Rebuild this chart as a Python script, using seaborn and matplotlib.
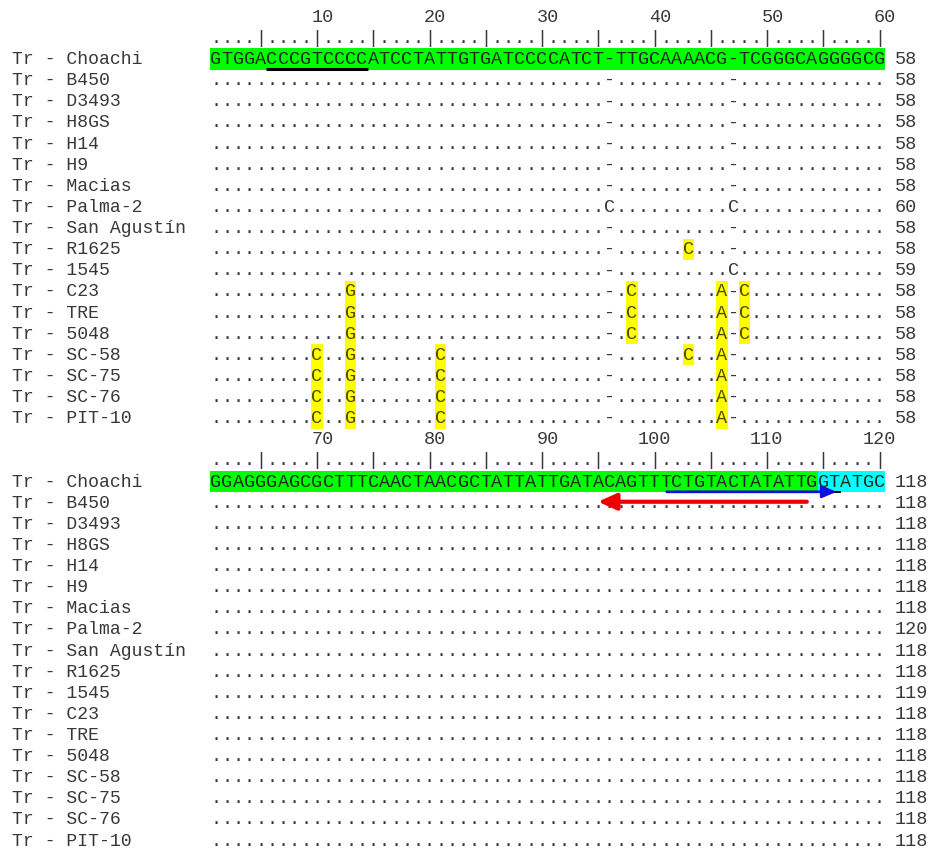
import numpy as np
import seaborn as sns
import matplotlib
matplotlib.use("Agg")
import matplotlib.pyplot as plt
from matplotlib.colors import ListedColormap

# ---- alignment data -------------------------------------------------------
strains = ["Choachi", "B450", "D3493", "H8GS", "H14", "H9", "Macias", "Palma-2",
           "San Agustín", "R1625", "1545", "C23", "TRE", "5048", "SC-58",
           "SC-75", "SC-76", "PIT-10"]

reference_block1 = "GTGGACCCGTCCCCATCCTATTGTGATCCCCATCT-TTGCAAAACG-TCGGGCAGGGGCG"
reference_block2 = "GGAGGGAGCGCTTTCAACTAACGCTATTATTGATACAGTTTCTGTACTATATTGGTATGC"
block_starts = [1, 61]

# characters that differ from the reference (position -> shown character)
gaps = {36: "-", 47: "-"}
cluster_c23 = {13: "G", 36: "-", 38: "C", 46: "A", 47: "-", 48: "C"}
cluster_sc = {10: "C", 13: "G", 21: "C", 36: "-", 46: "A", 47: "-"}
diffs_block1 = {
    "B450": gaps, "D3493": gaps, "H8GS": gaps, "H14": gaps, "H9": gaps,
    "Macias": gaps,
    "Palma-2": {36: "C", 47: "C"},
    "San Agustín": gaps,
    "R1625": {36: "-", 43: "C", 47: "-"},
    "1545": {36: "-", 47: "C"},
    "C23": cluster_c23, "TRE": cluster_c23, "5048": cluster_c23,
    "SC-58": {10: "C", 13: "G", 21: "C", 36: "-", 43: "C", 46: "A", 47: "-"},
    "SC-75": cluster_sc, "SC-76": cluster_sc, "PIT-10": cluster_sc,
}
diffs_block2 = {}

lengths_block1 = [58, 58, 58, 58, 58, 58, 58, 60, 58, 58, 59, 58, 58, 58, 58, 58, 58, 58]
lengths_block2 = [118, 118, 118, 118, 118, 118, 118, 120, 118, 118, 119, 118, 118, 118, 118, 118, 118, 118]

# features
underline_span = (6, 14)          # underlined motif in the reference
primer_region = (115, 120)        # cyan shading
forward_arrow = (101.1, 116.2)    # blue arrow (start, tip), alignment positions
forward_tail_end = 116.5
reverse_arrow = (113.55, 95.0)    # red arrow (start, tip)

GREEN, CYAN, YELLOW = "#00ff00", "#00ffff", "#ffff00"
FONT = "Liberation Mono"
FS = 13.3
LABEL_FS = 13.1
TXT = "#383838"
SEQ_TXT = "#1e2a1e"
HL_TXT = "#4a4a00"

# ---- build rows -----------------------------------------------------------
refs = [reference_block1, reference_block2]
diffs = [diffs_block1, diffs_block2]
lengths = [lengths_block1, lengths_block2]
lines_per_block = 2 + len(strains)
n_lines = lines_per_block * 2
bg = np.full((n_lines, 60), np.nan)

rows = []  # (line, block, strain index, characters, highlighted columns)
for b, ref in enumerate(refs):
    top = b * lines_per_block
    start = block_starts[b]
    for i, s in enumerate(strains):
        line = top + 2 + i
        if i == 0:
            chars = list(ref)
            for c in range(60):
                pos = start + c
                bg[line, c] = 1 if primer_region[0] <= pos <= primer_region[1] else 0
            rows.append((line, b, i, chars, set()))
            continue
        chars = ["."] * 60
        hl = set()
        for pos, ch in diffs[b].get(s, {}).items():
            c = pos - start
            chars[c] = ch
            if ch != "-" and ref[c] != "-":
                hl.add(c)
                bg[line, c] = 2
        rows.append((line, b, i, chars, hl))

# ---- figure ---------------------------------------------------------------
fig = plt.figure(figsize=(9.3, 8.57), dpi=100)
ax = fig.add_axes([0, 0, 1, 1])
sns.heatmap(bg, ax=ax, cmap=ListedColormap([GREEN, CYAN, YELLOW]),
            vmin=-0.5, vmax=2.5, cbar=False, xticklabels=False,
            yticklabels=False, linewidths=0)
ax.set_xlim(-18.667, 64.0)
ax.set_ylim(40.28, -0.295)
ax.set_axis_off()

BASE = 0.74  # baseline offset within a line


def put(x, line, s, color=TXT, ha="center", size=FS):
    ax.text(x, line + BASE, s, fontsize=size, family=FONT, color=color,
            ha=ha, va="baseline")


for b in range(2):
    top = b * lines_per_block
    start = block_starts[b]
    # ruler numbers
    for col in range(10, 61, 10):
        label = str(start - 1 + col)
        left = (col - 1) - (len(label) - 1) // 2
        put(left + len(label) / 2, top, label)
    # ruler ticks
    for col in range(1, 61):
        put(col - 0.5, top + 1, "|" if col % 5 == 0 else ".")

for line, b, i, chars, hl in rows:
    put(-17.6, line, "Tr - " + strains[i], ha="left", size=LABEL_FS)
    for c, ch in enumerate(chars):
        if c in hl:
            col = HL_TXT
        elif i == 0:
            col = SEQ_TXT
        else:
            col = TXT
        put(c + 0.5, line, ch, color=col)
    put(60.85, line, str(lengths[b][i]), ha="left")

# underline of the motif in block 1
u0, u1 = underline_span
ax.plot([u0 - 1, u1], [2.97, 2.97], color="black", lw=2.2, solid_capstyle="butt")


def to_x(pos):
    return pos - block_starts[1] + 0.5


y_fwd = 22.99
ax.plot([to_x(forward_arrow[0]), to_x(forward_tail_end)], [y_fwd, y_fwd],
        color="black", lw=1.4)
ax.annotate("", xy=(to_x(forward_arrow[1]), y_fwd),
            xytext=(to_x(forward_arrow[0]), y_fwd),
            arrowprops=dict(arrowstyle="-|>,head_length=8.5,head_width=3.6",
                            mutation_scale=1, color="#1010e0", lw=2.0,
                            shrinkA=0, shrinkB=0))
y_rev = 23.46
ax.annotate("", xy=(to_x(reverse_arrow[1]), y_rev),
            xytext=(to_x(reverse_arrow[0]), y_rev),
            arrowprops=dict(arrowstyle="-|>,head_length=11,head_width=5",
                            mutation_scale=1, color="#ee0000", lw=3.0,
                            shrinkA=0, shrinkB=0))

fig.savefig("out.png", dpi=100)
